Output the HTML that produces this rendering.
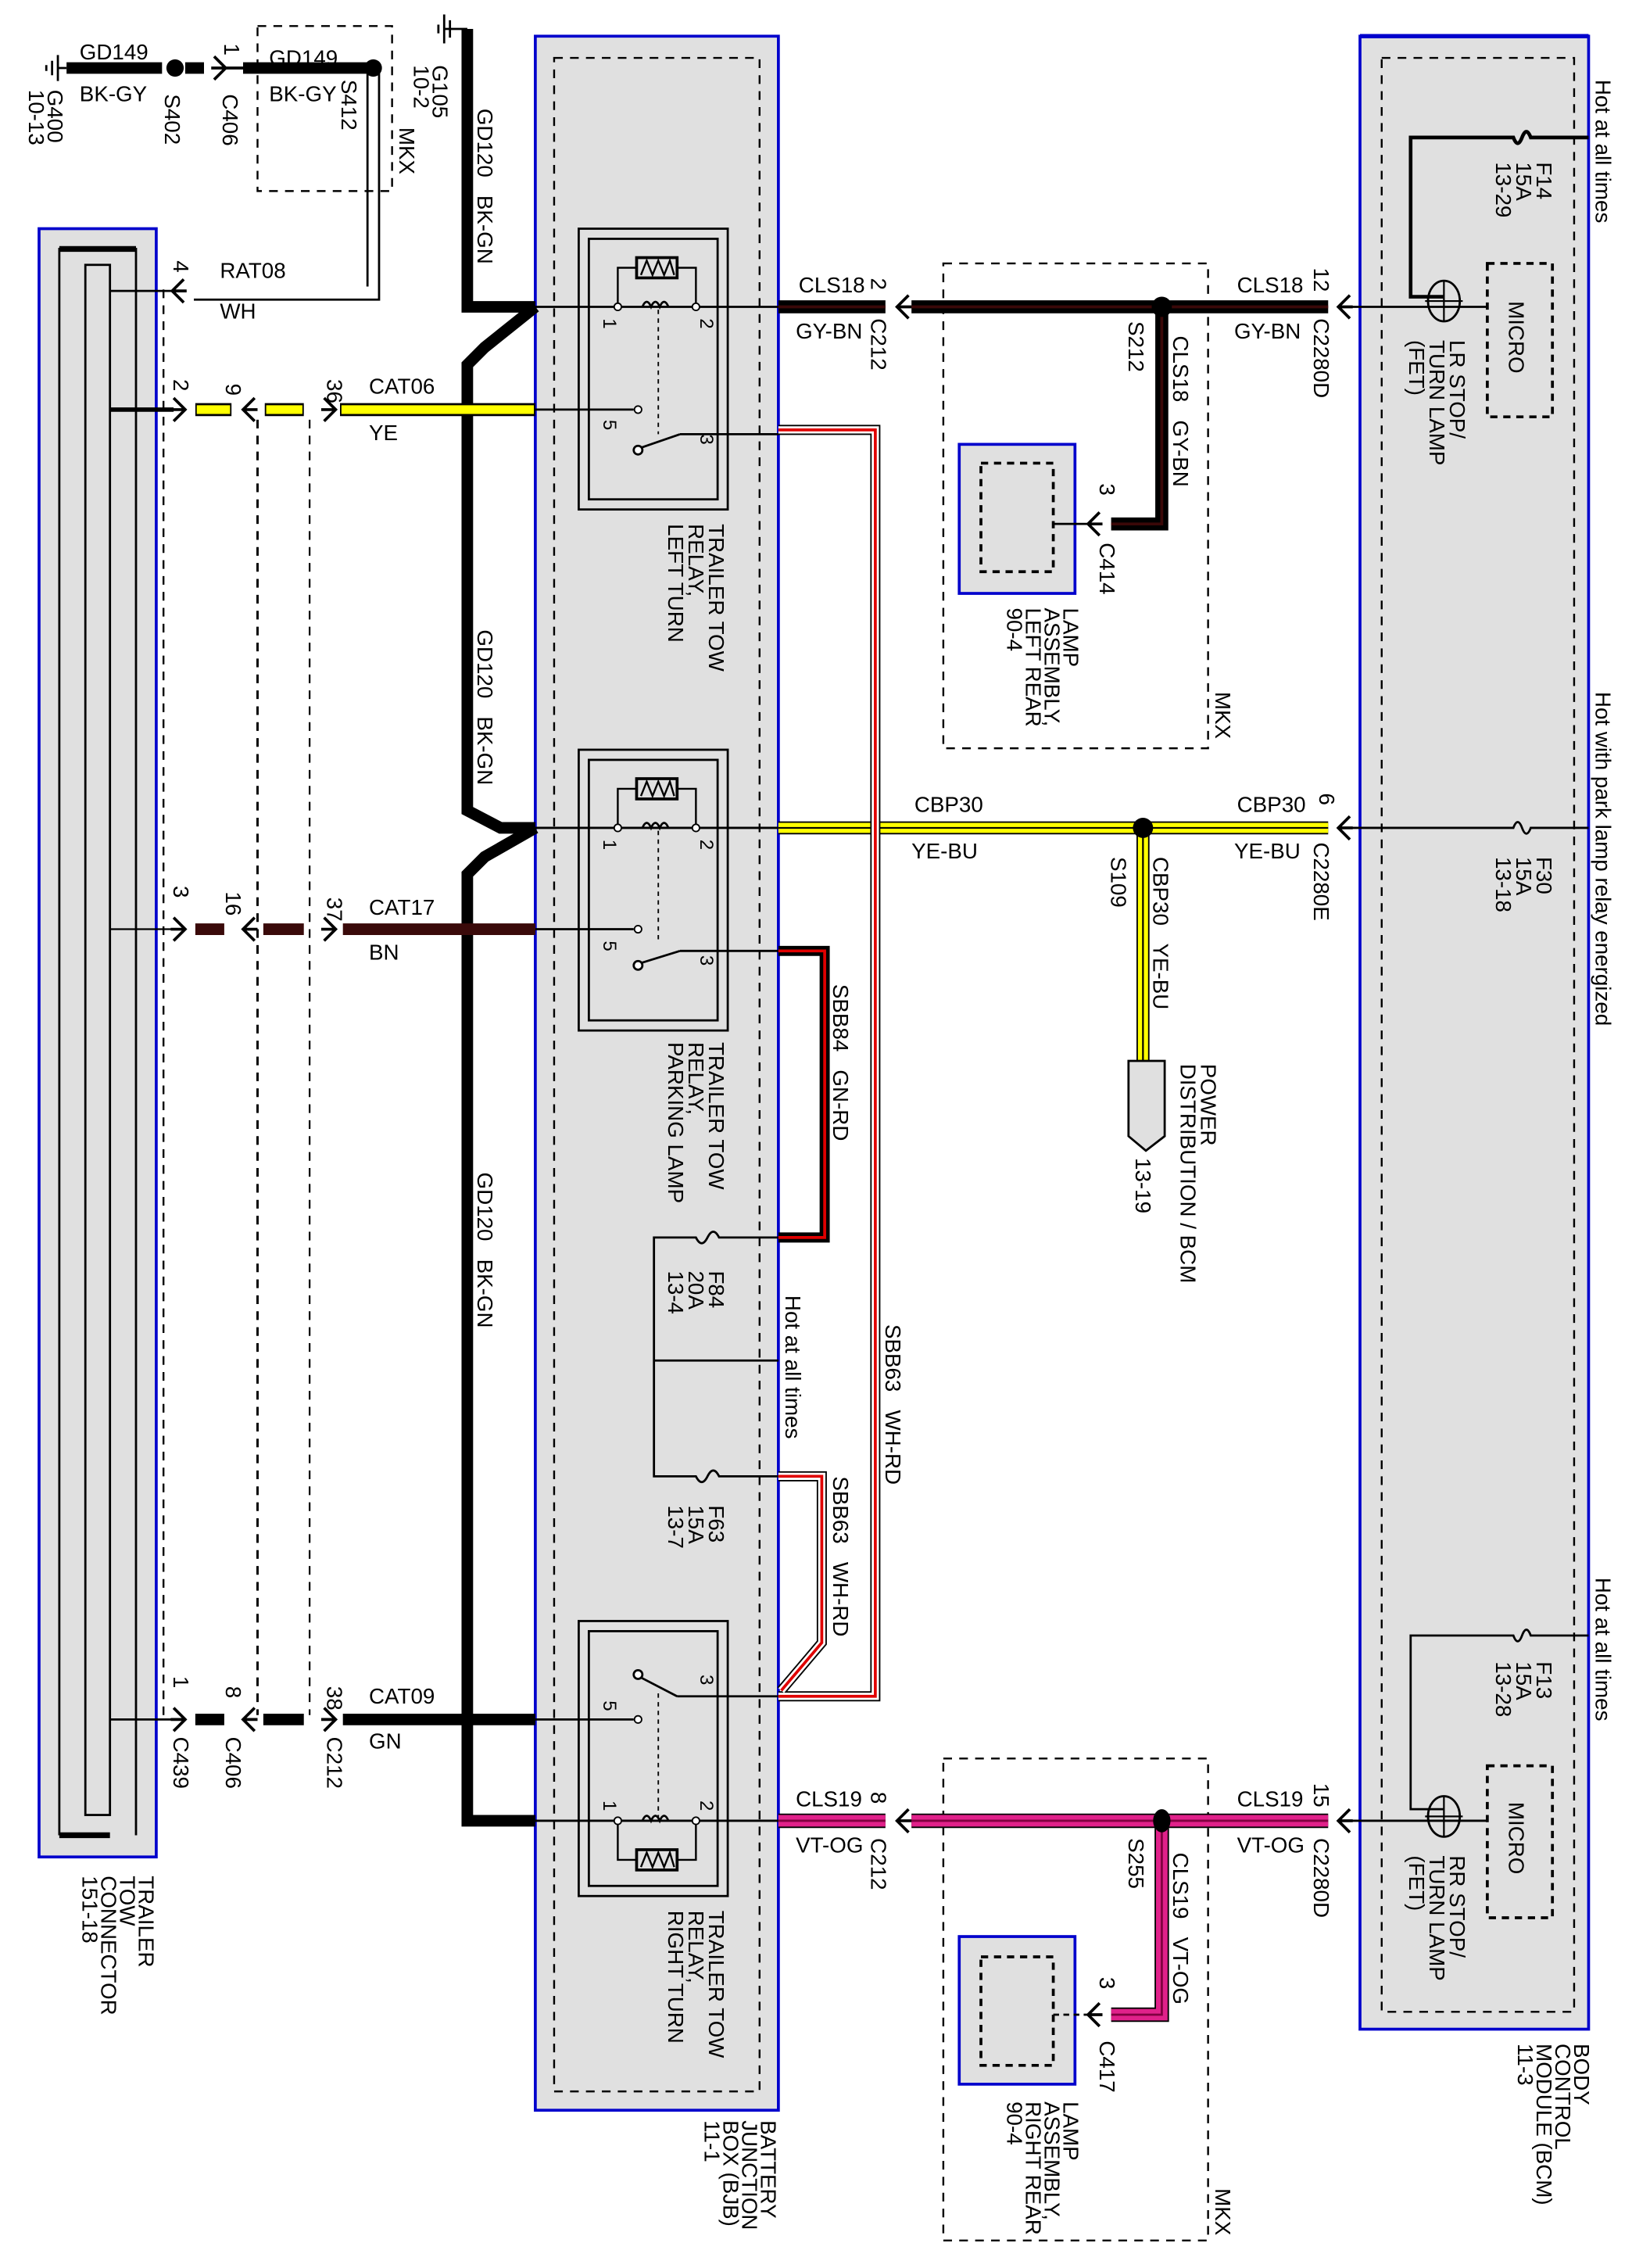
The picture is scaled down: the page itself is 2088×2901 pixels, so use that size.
<!DOCTYPE html>
<html><head><meta charset="utf-8"><style>
html,body{margin:0;padding:0;background:#fff;}
svg{display:block;}
text{font-family:"Liberation Sans",Arial,sans-serif;fill:#000;white-space:pre;}
</style></head><body>
<svg width="2088" height="2901" viewBox="0 0 1128 1567" preserveAspectRatio="none" xmlns="http://www.w3.org/2000/svg" xml:space="preserve">
<defs>
<g id="arrL"><path d="M8,-8 L0,0 L8,8 M0,0 H10" fill="none" stroke="#000" stroke-width="2"/></g>
<g id="arrR"><path d="M-8,-8 L0,0 L-8,8 M0,0 H-10" fill="none" stroke="#000" stroke-width="2"/></g>
</defs>

<rect x="27" y="158" width="81" height="1125" fill="#e0e0e0" stroke="#0000cc" stroke-width="2"/>
<path d="M41,1268 V172 H94 V1268" fill="none" stroke="#000" stroke-width="1.5"/>
<path d="M41,172 H94" stroke="#000" stroke-width="4"/>
<path d="M41,1268 H76" stroke="#000" stroke-width="4"/>
<rect x="59" y="183" width="17" height="1071" fill="none" stroke="#000" stroke-width="1.5"/>
<rect x="370" y="25" width="168" height="1433" fill="#e0e0e0" stroke="#0000cc" stroke-width="2"/>
<rect x="383" y="40" width="142" height="1405" fill="none" stroke="#000" stroke-width="1.3" stroke-dasharray="6,5"/>
<rect x="940" y="25" width="158" height="1377" fill="#e0e0e0" stroke="#0000cc" stroke-width="2"/>
<path d="M940,25 H1098" stroke="#0000cc" stroke-width="3"/>
<rect x="955" y="40" width="133" height="1350" fill="none" stroke="#000" stroke-width="1.3" stroke-dasharray="6,5"/>
<rect x="1028" y="182" width="45" height="106" fill="none" stroke="#000" stroke-width="2" stroke-dasharray="5,4"/>
<rect x="1028" y="1220" width="45" height="105" fill="none" stroke="#000" stroke-width="2" stroke-dasharray="5,4"/>
<rect x="178" y="18" width="93" height="114" fill="none" stroke="#000" stroke-width="1.3" stroke-dasharray="6,5"/>
<rect x="652" y="182" width="183" height="335" fill="none" stroke="#000" stroke-width="1.3" stroke-dasharray="6,5"/>
<rect x="652" y="1215" width="183" height="333" fill="none" stroke="#000" stroke-width="1.3" stroke-dasharray="6,5"/>
<rect x="663" y="307" width="80" height="103" fill="#e0e0e0" stroke="#0000cc" stroke-width="2"/>
<rect x="678" y="320" width="50" height="75" fill="none" stroke="#000" stroke-width="2" stroke-dasharray="5,4"/>
<rect x="663" y="1338" width="80" height="102" fill="#e0e0e0" stroke="#0000cc" stroke-width="2"/>
<rect x="678" y="1352" width="50" height="75" fill="none" stroke="#000" stroke-width="2" stroke-dasharray="5,4"/>

<path d="M113,200 V1190" stroke="#000" stroke-width="1.3" stroke-dasharray="6,5"/>
<path d="M178,290 V1185" stroke="#000" stroke-width="1.6" stroke-dasharray="6,5"/>
<path d="M214,290 V1185" stroke="#000" stroke-width="1.2" stroke-dasharray="6,5"/>

<path d="M40,38 V56 M36,42 V52 M32,45 V49 M40,47 H46" stroke="#000" stroke-width="1.5"/>
<path d="M46,47 H112" stroke="#000" stroke-width="8"/>
<circle cx="121" cy="47" r="6"/>
<path d="M128,47 H141" stroke="#000" stroke-width="8"/>
<use href="#arrR" x="156" y="47"/>
<path d="M156,47 H168" stroke="#000" stroke-width="2"/>
<path d="M168,47 H255" stroke="#000" stroke-width="8"/>
<circle cx="258" cy="47" r="6"/>
<path d="M254,50 V198 M262,50 V207 H134" fill="none" stroke="#000" stroke-width="1.5"/>
<use href="#arrL" x="119" y="201"/>
<path d="M76,201 H121" stroke="#000" stroke-width="1.5"/>
<path d="M307,10 V30 M311,14 V26 M303,17 V23" stroke="#000" stroke-width="1.5"/>
<path d="M307,20 H323" stroke="#000" stroke-width="1.5"/>

<path d="M323,20 V212 H370 M370,212 L335,240 L323,252 V560 L346,572 H370 M370,572 L335,592 L323,604 V1258 H370" fill="none" stroke="#000" stroke-width="8"/>

<g>
<rect x="400" y="158" width="103" height="194" fill="none" stroke="#000" stroke-width="1.5"/>
<rect x="407" y="165" width="89" height="180" fill="none" stroke="#000" stroke-width="1.5"/>
<path d="M370,212 H538" stroke="#000" stroke-width="1.5"/>
<path d="M427,212 V185 H440 M468,185 H481 V212" fill="none" stroke="#000" stroke-width="1.3"/>
<rect x="440" y="178" width="28" height="14" fill="none" stroke="#000" stroke-width="2"/>
<path d="M443,190 L447,180 L451,190 L455,180 L459,190 L463,180 L466,190" fill="none" stroke="#000" stroke-width="1.3"/>
<path d="M444,212 q3,-7 6,0 q3,-7 6,0 q3,-7 6,0" fill="none" stroke="#000" stroke-width="1.5"/>
<circle cx="427" cy="212" r="2.5" fill="#fff" stroke="#000"/><circle cx="481" cy="212" r="2.5" fill="#fff" stroke="#000"/>
<path d="M455,214 V300" stroke="#000" stroke-width="1" stroke-dasharray="3,3"/>
<path d="M370,283 H438" stroke="#000" stroke-width="1.5"/>
<circle cx="441" cy="283" r="2.5" fill="#fff" stroke="#000"/>
<path d="M441,310 L470,300 M470,300 H538" stroke="#000" stroke-width="1.5"/>
<circle cx="441" cy="311" r="3" fill="#fff" stroke="#000" stroke-width="1.5"/>
<text transform="translate(417,220) rotate(90)" font-size="13">1</text>
<text transform="translate(484,220) rotate(90)" font-size="13">2</text>
<text transform="translate(417,290) rotate(90)" font-size="13">5</text>
<text transform="translate(484,300) rotate(90)" font-size="13">3</text>
</g>
<g transform="translate(0,360)">
<rect x="400" y="158" width="103" height="194" fill="none" stroke="#000" stroke-width="1.5"/>
<rect x="407" y="165" width="89" height="180" fill="none" stroke="#000" stroke-width="1.5"/>
<path d="M370,212 H538" stroke="#000" stroke-width="1.5"/>
<path d="M427,212 V185 H440 M468,185 H481 V212" fill="none" stroke="#000" stroke-width="1.3"/>
<rect x="440" y="178" width="28" height="14" fill="none" stroke="#000" stroke-width="2"/>
<path d="M443,190 L447,180 L451,190 L455,180 L459,190 L463,180 L466,190" fill="none" stroke="#000" stroke-width="1.3"/>
<path d="M444,212 q3,-7 6,0 q3,-7 6,0 q3,-7 6,0" fill="none" stroke="#000" stroke-width="1.5"/>
<circle cx="427" cy="212" r="2.5" fill="#fff" stroke="#000"/><circle cx="481" cy="212" r="2.5" fill="#fff" stroke="#000"/>
<path d="M455,214 V290" stroke="#000" stroke-width="1" stroke-dasharray="3,3"/>
<path d="M370,282 H438" stroke="#000" stroke-width="1.5"/>
<circle cx="441" cy="282" r="2.5" fill="#fff" stroke="#000"/>
<path d="M441,306 L470,297 M470,297 H538" stroke="#000" stroke-width="1.5"/>
<circle cx="441" cy="307" r="3" fill="#fff" stroke="#000" stroke-width="1.5"/>
<text transform="translate(417,220) rotate(90)" font-size="13">1</text>
<text transform="translate(484,220) rotate(90)" font-size="13">2</text>
<text transform="translate(417,290) rotate(90)" font-size="13">5</text>
<text transform="translate(484,300) rotate(90)" font-size="13">3</text>
</g>
<rect x="400" y="1120" width="103" height="190" fill="none" stroke="#000" stroke-width="1.5"/>
<rect x="407" y="1127" width="89" height="176" fill="none" stroke="#000" stroke-width="1.5"/>
<path d="M370,1258 H538" stroke="#000" stroke-width="1.5"/>
<path d="M427,1258 V1285 H440 M468,1285 H481 V1258" fill="none" stroke="#000" stroke-width="1.3"/>
<rect x="440" y="1278" width="28" height="14" fill="none" stroke="#000" stroke-width="2"/>
<path d="M443,1290 L447,1280 L451,1290 L455,1280 L459,1290 L463,1280 L466,1290" fill="none" stroke="#000" stroke-width="1.3"/>
<path d="M444,1258 q3,-7 6,0 q3,-7 6,0 q3,-7 6,0" fill="none" stroke="#000" stroke-width="1.5"/>
<circle cx="427" cy="1258" r="2.5" fill="#fff" stroke="#000"/><circle cx="481" cy="1258" r="2.5" fill="#fff" stroke="#000"/>
<path d="M455,1170 V1256" stroke="#000" stroke-width="1" stroke-dasharray="3,3"/>
<path d="M370,1188 H438" stroke="#000" stroke-width="1.5"/>
<circle cx="441" cy="1188" r="2.5" fill="#fff" stroke="#000"/>
<path d="M441,1158 L468,1172 M468,1172 H538" stroke="#000" stroke-width="1.5"/>
<circle cx="441" cy="1157" r="3" fill="#fff" stroke="#000" stroke-width="1.5"/>
<text transform="translate(417,1244) rotate(90)" font-size="13">1</text>
<text transform="translate(484,1244) rotate(90)" font-size="13">2</text>
<text transform="translate(417,1175) rotate(90)" font-size="13">5</text>
<text transform="translate(484,1157) rotate(90)" font-size="13">3</text>

<path d="M76,283 H120" stroke="#000" stroke-width="3"/>
<use href="#arrR" x="128" y="283"/>
<path d="M135,283 H160 M183,283 H210 M235,283 H370" stroke="#000" stroke-width="9"/>
<path d="M136,283 H159 M184,283 H209 M236,283 H369" stroke="#ffff00" stroke-width="6"/>
<use href="#arrL" x="168" y="283"/>
<use href="#arrR" x="232" y="283"/>
<path d="M76,642 H120" stroke="#000" stroke-width="1.2"/>
<use href="#arrR" x="128" y="642"/>
<path d="M135,642 H155 M182,642 H210 M237,642 H370" stroke="#3a0a0a" stroke-width="8"/>
<use href="#arrL" x="168" y="642"/>
<use href="#arrR" x="232" y="642"/>
<path d="M76,1188 H120" stroke="#000" stroke-width="1.5"/>
<use href="#arrR" x="128" y="1188"/>
<path d="M135,1188 H155 M182,1188 H210 M237,1188 H370" stroke="#000" stroke-width="8"/>
<use href="#arrL" x="168" y="1188"/>
<use href="#arrR" x="232" y="1188"/>

<path d="M538,212 H612 M630,212 H918 M803,212 V362 H768" fill="none" stroke="#000" stroke-width="9"/>
<path d="M538,212 H612 M630,212 H918 M803,212 V362 H768" fill="none" stroke="#3a0808" stroke-width="2"/>
<use href="#arrL" x="620" y="212"/>
<use href="#arrL" x="925" y="212"/>
<path d="M925,212 H1028" stroke="#000" stroke-width="1.5"/>
<circle cx="803" cy="212" r="7"/>
<use href="#arrL" x="752" y="362"/>
<path d="M728,362 H762" stroke="#000" stroke-width="1.5"/>
<path d="M1098,95 H1058 q-3,-8 -6,0 q-3,8 -6,0 H975 V205 H998" fill="none" stroke="#000" stroke-width="2.5"/>
<ellipse cx="998" cy="208" rx="11" ry="14" fill="none" stroke="#000" stroke-width="1.5"/>
<path d="M985,208 H1011 M998,194 V222" stroke="#000" stroke-width="1.2"/>
<g fill="none">
<path d="M538,572 H918 M790,572 V735" stroke="#000" stroke-width="9"/>
<path d="M538,572 H918 M790,572 V735" stroke="#ffff00" stroke-width="7"/>
<path d="M538,572 H918 M790,572 V735" stroke="#000" stroke-width="1.2"/>
</g>
<circle cx="790" cy="572" r="7"/>
<use href="#arrL" x="925" y="572"/>
<path d="M925,572 H1046 q3,-8 6,0 q3,8 6,0 H1098" fill="none" stroke="#000" stroke-width="1.5"/>
<path d="M780,733 H805 V785 L792,795 L780,785 Z" fill="#e0e0e0" stroke="#000" stroke-width="1.5"/>
<path d="M538,657 H570 V855 H538" fill="none" stroke="#000" stroke-width="7"/>
<path d="M538,657 H570 V855 H538" fill="none" stroke="#e00000" stroke-width="2"/>
<path d="M538,855 H497 q-4,-8 -8,0 q-4,8 -8,0 H452 V1020 H481 q4,8 8,0 q4,-8 8,0 H538 M452,940 H538" fill="none" stroke="#000" stroke-width="1.5"/>
<g fill="none">
<path d="M538,297 H605 V1172 H538 M538,1020 H568 V1135 L540,1168" stroke="#000" stroke-width="7"/>
<path d="M538,297 H605 V1172 H538 M538,1020 H568 V1135 L540,1168" stroke="#fff" stroke-width="5"/>
<path d="M538,297 H605 V1172 H538 M538,1020 H568 V1135 L540,1168" stroke="#e00000" stroke-width="2"/>
</g>
<g fill="none">
<path d="M538,1258 H612 M630,1258 H918 M803,1258 V1392 H768" stroke="#000" stroke-width="10"/>
<path d="M538,1258 H612 M630,1258 H918 M803,1258 V1392 H768" stroke="#e0218a" stroke-width="8"/>
<path d="M538,1258 H612 M630,1258 H918 M803,1258 V1392 H768" stroke="#800040" stroke-width="1.5"/>
</g>
<use href="#arrL" x="620" y="1258"/>
<use href="#arrL" x="925" y="1258"/>
<path d="M925,1258 H1028" stroke="#000" stroke-width="1.5"/>
<ellipse cx="803" cy="1258" rx="6" ry="8"/>
<use href="#arrL" x="752" y="1392"/>
<path d="M728,1392 H762" stroke="#000" stroke-width="1.5" stroke-dasharray="4,3"/>
<path d="M1098,1130 H1058 q-3,-8 -6,0 q-3,8 -6,0 H975 V1250 H998" fill="none" stroke="#000" stroke-width="1.5"/>
<ellipse cx="998" cy="1255" rx="11" ry="14" fill="none" stroke="#000" stroke-width="1.5"/>
<path d="M985,1255 H1011 M998,1241 V1269" stroke="#000" stroke-width="1.2"/>

<g font-size="15">
<text x="55" y="41">GD149</text><text x="55" y="70">BK-GY</text>
<text x="186" y="45">GD149</text><text x="186" y="70">BK-GY</text>
<text x="152" y="192">RAT08</text><text x="152" y="220">WH</text>
<text x="255" y="272">CAT06</text><text x="255" y="304">YE</text>
<text x="255" y="632">CAT17</text><text x="255" y="663">BN</text>
<text x="255" y="1177">CAT09</text><text x="255" y="1208">GN</text>
<text x="552" y="202">CLS18</text><text x="550" y="234">GY-BN</text>
<text x="855" y="202">CLS18</text><text x="853" y="234">GY-BN</text>
<text x="632" y="561">CBP30</text><text x="630" y="593">YE-BU</text>
<text x="855" y="561">CBP30</text><text x="853" y="593">YE-BU</text>
<text x="550" y="1248">CLS19</text><text x="550" y="1280">VT-OG</text>
<text x="855" y="1248">CLS19</text><text x="855" y="1280">VT-OG</text>
</g>

<g font-size="15">
<text transform="translate(33,62) rotate(90)">G400</text>
<text transform="translate(20,62) rotate(90)">10-13</text>
<text transform="translate(114,65) rotate(90)">S402</text>
<text transform="translate(155,30) rotate(90)">1</text>
<text transform="translate(154,65) rotate(90)">C406</text>
<text transform="translate(236,55) rotate(90)">S412</text>
<text transform="translate(276,88) rotate(90)">MKX</text>
<text transform="translate(299,45) rotate(90)">G105</text>
<text transform="translate(286,45) rotate(90)">10-2</text>
<text transform="translate(330,75) rotate(90)">GD120   BK-GN</text>
<text transform="translate(330,435) rotate(90)">GD120   BK-GN</text>
<text transform="translate(330,810) rotate(90)">GD120   BK-GN</text>
<text transform="translate(120,180) rotate(90)">4</text>
<text transform="translate(120,262) rotate(90)">2</text>
<text transform="translate(156,265) rotate(90)">9</text>
<text transform="translate(226,262) rotate(90)">36</text>
<text transform="translate(120,612) rotate(90)">3</text>
<text transform="translate(156,616) rotate(90)">16</text>
<text transform="translate(226,620) rotate(90)">37</text>
<text transform="translate(120,1158) rotate(90)">1</text>
<text transform="translate(156,1165) rotate(90)">8</text>
<text transform="translate(226,1165) rotate(90)">38</text>
<text transform="translate(120,1200) rotate(90)">C439</text>
<text transform="translate(156,1200) rotate(90)">C406</text>
<text transform="translate(226,1200) rotate(90)">C212</text>
<text transform="translate(490,362) rotate(90)">TRAILER TOW</text>
<text transform="translate(476,362) rotate(90)">RELAY,</text>
<text transform="translate(462,362) rotate(90)">LEFT TURN</text>
<text transform="translate(490,720) rotate(90)">TRAILER TOW</text>
<text transform="translate(476,720) rotate(90)">RELAY,</text>
<text transform="translate(462,720) rotate(90)">PARKING LAMP</text>
<text transform="translate(490,1320) rotate(90)">TRAILER TOW</text>
<text transform="translate(476,1320) rotate(90)">RELAY,</text>
<text transform="translate(462,1320) rotate(90)">RIGHT TURN</text>
<text transform="translate(490,878) rotate(90)">F84</text>
<text transform="translate(476,878) rotate(90)">20A</text>
<text transform="translate(462,878) rotate(90)">13-4</text>
<text transform="translate(490,1040) rotate(90)">F63</text>
<text transform="translate(476,1040) rotate(90)">15A</text>
<text transform="translate(462,1040) rotate(90)">13-7</text>
<text transform="translate(543,895) rotate(90)">Hot at all times</text>
<text transform="translate(576,680) rotate(90)">SBB84   GN-RD</text>
<text transform="translate(612,915) rotate(90)">SBB63   WH-RD</text>
<text transform="translate(576,1020) rotate(90)">SBB63   WH-RD</text>
<text transform="translate(602,192) rotate(90)">2</text>
<text transform="translate(602,220) rotate(90)">C212</text>
<text transform="translate(908,185) rotate(90)">12</text>
<text transform="translate(908,220) rotate(90)">C2280D</text>
<text transform="translate(780,222) rotate(90)">S212</text>
<text transform="translate(811,232) rotate(90)">CLS18   GY-BN</text>
<text transform="translate(760,334) rotate(90)">3</text>
<text transform="translate(760,375) rotate(90)">C414</text>
<text transform="translate(735,420) rotate(90)">LAMP</text>
<text transform="translate(722,420) rotate(90)">ASSEMBLY,</text>
<text transform="translate(709,420) rotate(90)">LEFT REAR</text>
<text transform="translate(696,420) rotate(90)">90-4</text>
<text transform="translate(840,478) rotate(90)">MKX</text>
<text transform="translate(1103,55) rotate(90)">Hot at all times</text>
<text transform="translate(1062,112) rotate(90)">F14</text>
<text transform="translate(1048,112) rotate(90)">15A</text>
<text transform="translate(1034,112) rotate(90)">13-29</text>
<text transform="translate(1043,208) rotate(90)">MICRO</text>
<text transform="translate(1002,235) rotate(90)">LR STOP/</text>
<text transform="translate(988,235) rotate(90)">TURN LAMP</text>
<text transform="translate(974,235) rotate(90)">(FET)</text>
<text transform="translate(1103,478) rotate(90)">Hot with park lamp relay energized</text>
<text transform="translate(1062,592) rotate(90)">F30</text>
<text transform="translate(1048,592) rotate(90)">15A</text>
<text transform="translate(1034,592) rotate(90)">13-18</text>
<text transform="translate(912,548) rotate(90)">6</text>
<text transform="translate(908,582) rotate(90)">C2280E</text>
<text transform="translate(768,592) rotate(90)">S109</text>
<text transform="translate(797,592) rotate(90)">CBP30   YE-BU</text>
<text transform="translate(830,735) rotate(90)">POWER</text>
<text transform="translate(816,735) rotate(90)">DISTRIBUTION / BCM</text>
<text transform="translate(785,800) rotate(90)">13-19</text>
<text transform="translate(1103,1090) rotate(90)">Hot at all times</text>
<text transform="translate(1062,1148) rotate(90)">F13</text>
<text transform="translate(1048,1148) rotate(90)">15A</text>
<text transform="translate(1034,1148) rotate(90)">13-28</text>
<text transform="translate(1043,1245) rotate(90)">MICRO</text>
<text transform="translate(1002,1282) rotate(90)">RR STOP/</text>
<text transform="translate(988,1282) rotate(90)">TURN LAMP</text>
<text transform="translate(974,1282) rotate(90)">(FET)</text>
<text transform="translate(602,1238) rotate(90)">8</text>
<text transform="translate(602,1270) rotate(90)">C212</text>
<text transform="translate(908,1232) rotate(90)">15</text>
<text transform="translate(908,1270) rotate(90)">C2280D</text>
<text transform="translate(780,1270) rotate(90)">S255</text>
<text transform="translate(811,1280) rotate(90)">CLS19   VT-OG</text>
<text transform="translate(760,1366) rotate(90)">3</text>
<text transform="translate(760,1410) rotate(90)">C417</text>
<text transform="translate(735,1452) rotate(90)">LAMP</text>
<text transform="translate(722,1452) rotate(90)">ASSEMBLY,</text>
<text transform="translate(709,1452) rotate(90)">RIGHT REAR</text>
<text transform="translate(696,1452) rotate(90)">90-4</text>
<text transform="translate(840,1512) rotate(90)">MKX</text>
<text transform="translate(96,1296) rotate(90)">TRAILER</text>
<text transform="translate(83,1296) rotate(90)">TOW</text>
<text transform="translate(70,1296) rotate(90)">CONNECTOR</text>
<text transform="translate(57,1296) rotate(90)">151-18</text>
<text transform="translate(526,1465) rotate(90)">BATTERY</text>
<text transform="translate(513,1465) rotate(90)">JUNCTION</text>
<text transform="translate(500,1465) rotate(90)">BOX (BJB)</text>
<text transform="translate(487,1465) rotate(90)">11-1</text>
<text transform="translate(1088,1412) rotate(90)">BODY</text>
<text transform="translate(1075,1412) rotate(90)">CONTROL</text>
<text transform="translate(1062,1412) rotate(90)">MODULE (BCM)</text>
<text transform="translate(1049,1412) rotate(90)">11-3</text>
</g>
</svg>
</body></html>
